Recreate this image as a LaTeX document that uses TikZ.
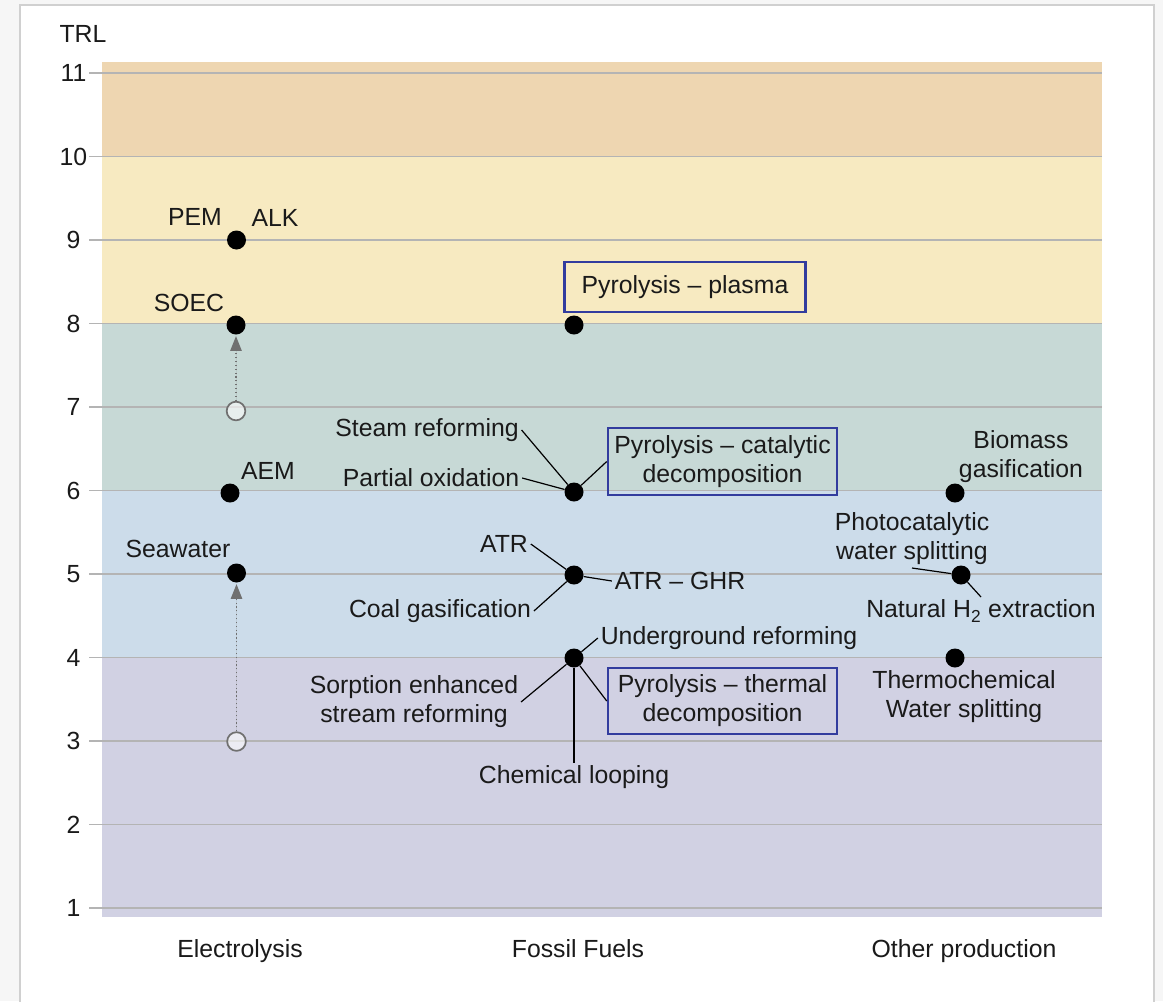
\documentclass[tikz,border=0pt]{standalone}
\usepackage{fontspec}
\setmainfont{Liberation Sans}
\usetikzlibrary{arrows.meta}
\definecolor{outbg}{HTML}{F6F6F6}
\definecolor{framecol}{HTML}{D0D0D0}
\definecolor{bandA}{HTML}{EED6B1}
\definecolor{bandB}{HTML}{F7EAC1}
\definecolor{bandC}{HTML}{C7D9D6}
\definecolor{bandD}{HTML}{CCDCEA}
\definecolor{bandE}{HTML}{D1D1E3}
\definecolor{gridgray}{HTML}{B4B4B4}
\definecolor{opgray}{HTML}{707070}
\definecolor{boxblue}{HTML}{323C9E}
\definecolor{txt}{HTML}{1A1A1A}
\begin{document}
\begin{tikzpicture}[x=0.75pt,y=-0.75pt,
  lbl/.style={font=\fontsize{18.6}{21.75}\selectfont, text=txt, inner sep=2pt, align=center},
  bdot/.style={circle, fill=black, minimum size=14.25pt, inner sep=0pt},
  odot/.style={circle, draw=opgray, line width=1.3pt, fill=white, fill opacity=0.6, minimum size=14pt, inner sep=0pt},
  pbox/.style={draw=boxblue, line width=1.9pt, font=\fontsize{18.6}{21.75}\selectfont, text=txt, inner sep=0pt, align=center},
  con/.style={draw=black, line width=0.9pt},
  uparrow/.style={draw=opgray, fill=opgray, dotted, line width=0.9pt, -{Triangle[length=11pt,width=8.5pt]}, shorten >=1pt},
  gridline/.style={draw=gridgray, line width=1.1pt}
]
\useasboundingbox (0,0) rectangle (1163,1001);
\fill[outbg] (0,0) rectangle (1163,1001);
\draw[framecol, fill=white, line width=0.8pt] (20,5) rectangle (1154,1012);
% bands
\fill[bandA] (102,62) rectangle (1102,156.5);
\fill[bandB] (102,156.5) rectangle (1102,323.5);
\fill[bandC] (102,323.5) rectangle (1102,490.5);
\fill[bandD] (102,490.5) rectangle (1102,657.5);
\fill[bandE] (102,657.5) rectangle (1102,917);
% grid and ticks
\foreach \n in {1,...,11} {
  \pgfmathsetmacro{\yy}{908-83.5*(\n-1)}
  \draw[gridline] (89,\yy) -- (1102,\yy);
  \node[lbl] (t\n) at (73.5,\yy) {\n};
}
\node[lbl] (trl) at (83,34) {TRL};
% Electrolysis
\node[bdot] (pem) at (236.5,240) {};
\node[bdot] (soec) at (236,325) {};
\node[odot] (o7) at (236,411) {};
\node[bdot] (aem) at (230,493) {};
\node[bdot] (sea) at (236.5,573) {};
\node[odot] (o3) at (236.5,741.5) {};
\node[lbl] (pemL) at (195,217) {PEM};
\node[lbl] (alkL) at (275,218) {ALK};
\node[lbl] (soecL) at (189,303) {SOEC};
\node[lbl] (aemL) at (268,471) {AEM};
\node[lbl] (seaL) at (178,549) {Seawater};
\draw[uparrow] (o7) -- (soec);
\draw[uparrow] (o3) -- (sea);
% Fossil fuels
\node[pbox, minimum width=180.75pt, minimum height=37.5pt] (plasma) at (685,287) {Pyrolysis – plasma};
\node[lbl] (steam) at (427,430) {Steam reforming};
\node[lbl] (partial) at (431,478) {Partial oxidation};
\node[pbox, minimum width=171.75pt, minimum height=50.25pt] (pcat) at (722.5,461.5) {Pyrolysis – catalytic\\decomposition};
\node[lbl] (atr) at (504,544) {ATR};
\node[lbl] (ghr) at (680,581) {ATR – GHR};
\node[lbl] (coal) at (440,611) {Coal gasification};
\node[lbl] (under) at (729,638) {Underground reforming};
\node[lbl] (sorp) at (414,702) {Sorption enhanced\\stream reforming};
\node[pbox, minimum width=171.75pt, minimum height=49.5pt] (pth) at (722.5,701) {Pyrolysis – thermal\\decomposition};
\node[lbl] (chem) at (574,777) {Chemical looping};
\node[bdot] (f8) at (574,325) {};
\node[bdot] (f6) at (574,492) {};
\node[bdot] (f5) at (574,575) {};
\node[bdot] (f4) at (574,658) {};
\draw[con] (steam.east) -- (f6);
\draw[con] (partial.east) -- (f6);
\draw[con] (f6) -- (pcat.west);
\draw[con] (atr.east) -- (f5);
\draw[con] (f5) -- (ghr.west);
\draw[con] (coal.east) -- (f5);
\draw[con] (f4) -- (under.west);
\draw[con] (sorp.east) -- (f4);
\draw[con] (f4) -- (pth.west);
\draw[con] (f4) -- (chem.north);
% Other production
\node[lbl] (bio) at (1021,457) {Biomass\\gasification};
\node[lbl] (photo) at (912,539) {Photocatalytic\\water splitting};
\node[lbl] (nat) at (981,611) {Natural H\textsubscript{2} extraction};
\node[lbl] (thermo) at (964,697) {Thermochemical\\Water splitting};
\node[bdot] (od6) at (955,493) {};
\node[bdot] (od5) at (961,575) {};
\node[bdot] (od4) at (955,658) {};
\draw[con] (photo.south) -- (od5);
\draw[con] (od5) -- (nat.north);
% column labels
\node[lbl, anchor=base] (ce) at (240,957) {Electrolysis};
\node[lbl, anchor=base] (cf) at (578,957) {Fossil Fuels};
\node[lbl, anchor=base] (co) at (964,957) {Other production};
\end{tikzpicture}
\end{document}
